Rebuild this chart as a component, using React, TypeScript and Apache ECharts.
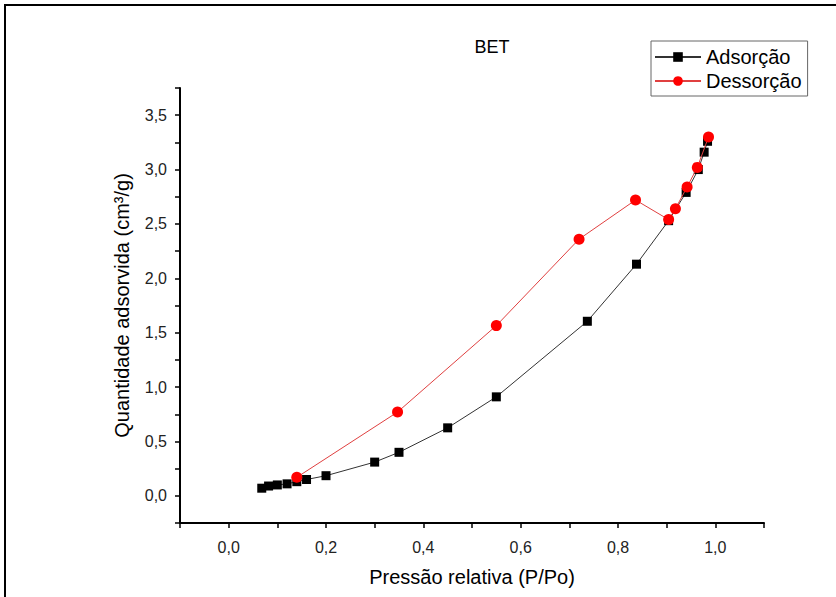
import React, { useEffect, useRef } from "react";
import * as echarts from "echarts";

const titleText = "BET";
const xName = "Pressão relativa (P/Po)";
const yName = "Quantidade adsorvida (cm³/g)";
const seriesNames = ["Adsorção", "Dessorção"];

const adsX = [0.068, 0.082, 0.10, 0.12, 0.14, 0.16, 0.20, 0.30, 0.35, 0.45, 0.55, 0.737, 0.838, 0.904, 0.94, 0.965, 0.977, 0.984];
const adsY = [0.07, 0.09, 0.10, 0.11, 0.13, 0.15, 0.185, 0.31, 0.40, 0.625, 0.91, 1.605, 2.13, 2.53, 2.79, 3.00, 3.16, 3.26];

const desX = [0.14, 0.347, 0.55, 0.72, 0.836, 0.904, 0.918, 0.942, 0.963, 0.986];
const desY = [0.17, 0.77, 1.565, 2.36, 2.72, 2.54, 2.64, 2.84, 3.02, 3.30];

const fmt = (v: number) => v.toFixed(1).replace(".", ",");

export default function App() {
  const ref = useRef<HTMLDivElement>(null);
  useEffect(() => {
    if (!ref.current) return;
    const chart = echarts.init(ref.current, null, { renderer: "svg" });
    const font = "Liberation Sans, Arial, sans-serif";
    chart.setOption({
      animation: false,
      backgroundColor: "#ffffff",
      textStyle: { fontFamily: font },
      graphic: [
        {
          type: "rect",
          shape: { x: 5, y: 5, width: 900, height: 700 },
          style: { fill: "none", stroke: "#000", lineWidth: 2 },
          silent: true,
        },
        {
          type: "text",
          x: 492,
          y: 47,
          style: {
            text: titleText,
            fontSize: 18,
            fontFamily: font,
            fill: "#000",
            textAlign: "center",
            textVerticalAlign: "middle",
          },
        },
      ],
      legend: {
        left: 651,
        top: 41,
        orient: "vertical",
        itemWidth: 46,
        itemHeight: 12,
        itemGap: 4,
        padding: [6, 6, 5, 3],
        borderColor: "#666",
        borderWidth: 1,
        textStyle: { fontSize: 20, color: "#000", fontFamily: font },
        data: seriesNames,
      },
      grid: { left: 180, top: 88, right: 72, bottom: 74 },
      xAxis: {
        type: "value",
        min: -0.1,
        max: 1.1,
        interval: 0.1,
        name: xName,
        nameLocation: "middle",
        nameGap: 44,
        nameTextStyle: { fontSize: 20, color: "#000", fontFamily: font },
        splitLine: { show: false },
        axisLine: { onZero: false, lineStyle: { color: "#000", width: 2 } },
        axisTick: { inside: false, length: 5, lineStyle: { color: "#000", width: 1.5 } },
        axisLabel: {
          margin: 16,
          fontSize: 16,
          color: "#222",
          fontFamily: font,
          formatter: (v: number) => {
            const k = Math.round(v * 10);
            if (k < 0 || k > 10 || k % 2 !== 0) return "";
            return fmt(k / 10);
          },
        },
      },
      yAxis: {
        type: "value",
        min: -0.25,
        max: 3.75,
        interval: 0.25,
        name: yName,
        nameLocation: "middle",
        nameRotate: 90,
        nameGap: 48,
        nameTextStyle: { fontSize: 20, color: "#000", fontFamily: font },
        splitLine: { show: false },
        axisLine: { onZero: false, lineStyle: { color: "#000", width: 2 } },
        axisTick: { inside: false, length: 5, lineStyle: { color: "#000", width: 1.5 } },
        axisLabel: {
          margin: 13,
          fontSize: 16,
          color: "#222",
          fontFamily: font,
          formatter: (v: number) => {
            const k = Math.round(v * 4);
            if (k < 0 || k > 14 || k % 2 !== 0) return "";
            return fmt(k / 4);
          },
        },
      },
      series: [
        {
          name: seriesNames[0],
          type: "line",
          data: adsX.map((x, i) => [x, adsY[i]]),
          symbol: "rect",
          symbolSize: 9,
          itemStyle: { color: "#000" },
          lineStyle: { color: "#333", width: 1 },
          z: 2,
        },
        {
          name: seriesNames[1],
          type: "line",
          data: desX.map((x, i) => [x, desY[i]]),
          symbol: "circle",
          symbolSize: 11,
          itemStyle: { color: "#ff0000" },
          lineStyle: { color: "#e04040", width: 1 },
          z: 3,
        },
      ],
    });
    return () => chart.dispose();
  }, []);
  return (
    <div
      ref={ref}
      style={{ position: "fixed", left: 0, top: 0, width: 836, height: 597 }}
    />
  );
}
